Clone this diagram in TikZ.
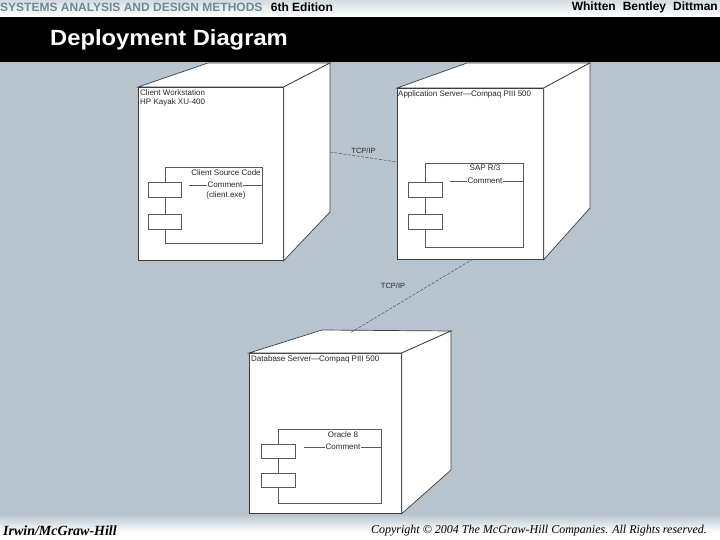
\documentclass[tikz,border=0pt]{standalone}
\usepackage{fontspec}
\setmainfont{Liberation Sans}
\newfontfamily\bookserif{Liberation Serif}
\usetikzlibrary{positioning}
\definecolor{slate}{HTML}{B7C4CD}
\definecolor{headteal}{HTML}{6D8B97}
\definecolor{edgegray}{HTML}{3C3C3C}
\begin{document}
\begin{tikzpicture}[x=1pt, y=-1pt,
        face/.style={draw=edgegray, fill=white, line width=0.7pt},
        front/.style={face, anchor=north west, inner sep=0pt},
        compbox/.style={draw=edgegray!85, fill=white, line width=0.6pt, anchor=north west, inner sep=0pt},
        tab/.style={draw=edgegray!85, fill=white, line width=0.6pt, minimum width=33pt, minimum height=15pt, inner sep=0pt},
        lbl/.style={font=\fontsize{8}{9}\selectfont, text=black!85, inner sep=0pt},
        link/.style={draw=edgegray!90, dash pattern=on 3pt off 1.5pt, line width=0.5pt}]
        \useasboundingbox (0,0) rectangle (720,540);
        % background, header and footer bands
        \fill[slate] (0,0) rectangle (720,540);
        \shade[top color=headteal!30, bottom color=white] (0,0) rectangle (720,17);
        \fill[black] (0,17) rectangle (720,62);
        \shade[top color=slate, bottom color=white] (0,514) rectangle (720,532);
        \fill[white] (0,532) rectangle (720,540);
        \node[anchor=west, inner sep=0pt, text=headteal, font=\bfseries\fontsize{12}{12}\selectfont] (series) at (0,7) {SYSTEMS ANALYSIS AND DESIGN METHODS};
        \node[right=8pt of series, inner sep=0pt, font=\bfseries\fontsize{12}{12}\selectfont] (edition) {6th Edition};
        \node[anchor=east, inner sep=0pt, font=\bfseries\fontsize{12}{12}\selectfont] (authors) at (718,7) {Whitten\hspace{7pt}Bentley\hspace{7pt}Dittman};
        \node[anchor=west, inner sep=0pt, text=white, font=\bfseries\fontsize{22}{22}\selectfont, xscale=1.08] (title) at (50,40) {Deployment Diagram};
        \node[anchor=west, inner sep=0pt, font=\bookserif\bfseries\itshape\fontsize{14}{14}\selectfont] (publisher) at (3,531) {Irwin/McGraw-Hill};
        \node[anchor=east, inner sep=0pt, font=\bookserif\itshape\fontsize{12}{12}\selectfont] (copyright) at (707,531) {Copyright \textcopyright{} 2004 The McGraw-Hill Companies. All Rights reserved.};

        % client workstation
        \node[front, minimum width=145pt, minimum height=173pt] (cw) at (138,87) {};
        \draw[face] (cw.north west) -- (208,63) -- (330,63) -- (cw.north east) -- cycle;
        \draw[face] (cw.north east) -- (330,63) -- (330,212) -- (cw.south east) -- cycle;
        \node[lbl, anchor=north west, align=left] (cw-name) at ([shift={(2,3)}]cw.north west) {Client Workstation\\HP Kayak XU-400};
        \node[compbox, minimum width=97pt, minimum height=76pt] (cw-comp) at (165,167) {};
        \node[tab] (cw-tab1) at (165,190) {};
        \node[tab] (cw-tab2) at (165,221.5) {};
        \node[lbl] (cw-title) at (226,173) {Client Source Code};
        \draw[edgegray!85, line width=0.5pt] (189,185) -- (cw-comp.east |- 0,185);
        \node[lbl, fill=white, inner xsep=1pt] (cw-note) at (225,185) {Comment};
        \node[lbl] (cw-file) at (226,195) {(client.exe)};

        % application server
        \node[front, minimum width=146pt, minimum height=171pt] (as) at (397,88) {};
        \draw[face] (as.north west) -- (467,63) -- (590,63) -- (as.north east) -- cycle;
        \draw[face] (as.north east) -- (590,63) -- (590,208) -- (as.south east) -- cycle;
        \node[lbl, anchor=north west] (as-name) at ([shift={(1,3)}]as.north west) {Application Server---Compaq PIII 500};
        \node[compbox, minimum width=98pt, minimum height=84pt] (as-comp) at (425,163) {};
        \node[tab, minimum width=34pt] (as-tab1) at (425,190) {};
        \node[tab, minimum width=34pt] (as-tab2) at (425,222) {};
        \node[lbl] (as-title) at (485,168) {SAP R/3};
        \draw[edgegray!85, line width=0.5pt] (450,181) -- (as-comp.east |- 0,181);
        \node[lbl, fill=white, inner xsep=1pt] (as-note) at (485,181) {Comment};

        % database server
        \node[front, minimum width=152pt, minimum height=160pt] (db) at (249,353) {};
        \draw[face] (db.north west) -- (322,330) -- (451,331) -- (db.north east) -- cycle;
        \draw[face] (db.north east) -- (451,331) -- (451,470) -- (db.south east) -- cycle;
        \node[lbl, anchor=north west] (db-name) at ([shift={(2,3)}]db.north west) {Database Server---Compaq PIII 500};
        \node[compbox, minimum width=103pt, minimum height=74pt] (db-comp) at (278,429) {};
        \node[tab, minimum width=34pt, minimum height=14pt] (db-tab1) at (278,451.5) {};
        \node[tab, minimum width=34pt, minimum height=14pt] (db-tab2) at (278,480) {};
        \node[lbl] (db-title) at (343,435) {Oracle 8};
        \draw[edgegray!85, line width=0.5pt] (304,447) -- (db-comp.east |- 0,447);
        \node[lbl, fill=white, inner xsep=1pt] (db-note) at (343,447) {Comment};

        % network links
        \coordinate (cw-port) at (330,152);
        \coordinate (as-port) at (cw-port -| as.west);
        \coordinate (as-down) at (473,259);
        \coordinate (db-up) at (350,333);
        \draw[link] (cw-port) -- ([yshift=-10pt]as-port) node[lbl, pos=0.5, above=3pt, font=\fontsize{7.5}{8}\selectfont] {TCP/IP};
        \draw[link] (as-down) -- (db-up) node[lbl, pos=0.65, above=18pt, font=\fontsize{7.5}{8}\selectfont] {TCP/IP};
\end{tikzpicture}
\end{document}
